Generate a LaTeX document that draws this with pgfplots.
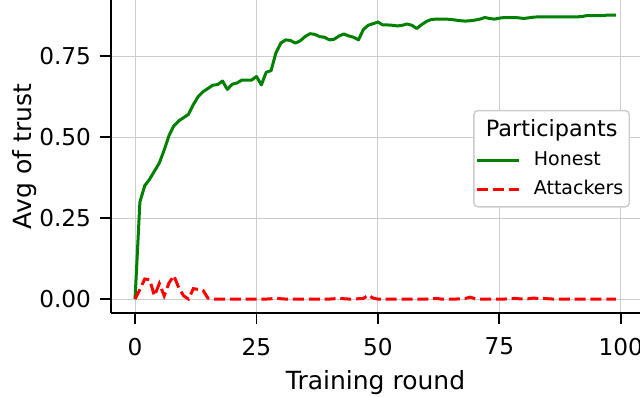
\documentclass[border=0pt]{standalone}
\usepackage{fontspec}
\setmainfont{DejaVu Sans}
\usepackage{pgfplots}
\usepackage{pgfplotstable}
\pgfplotsset{compat=1.18}
\definecolor{mplgreen}{RGB}{0,128,0}
\definecolor{gridgray}{RGB}{205,205,205}
\definecolor{leggray}{RGB}{204,204,204}

\pgfplotstableread{
x h
0 0
1 0.30
2 0.35
3 0.37
4 0.395
5 0.42
6 0.46
7 0.505
8 0.535
9 0.55
10 0.56
11 0.57
12 0.60
13 0.625
14 0.64
15 0.65
16 0.66
17 0.662
18 0.673
19 0.647
20 0.663
21 0.667
22 0.676
23 0.676
24 0.676
25 0.687
26 0.661
27 0.700
28 0.705
29 0.760
30 0.790
31 0.800
32 0.798
33 0.790
34 0.797
35 0.810
36 0.819
37 0.817
38 0.810
39 0.808
40 0.800
41 0.802
42 0.812
43 0.818
44 0.812
45 0.808
46 0.800
47 0.832
48 0.845
49 0.850
50 0.855
51 0.846
52 0.846
53 0.845
54 0.843
55 0.845
56 0.849
57 0.845
58 0.835
59 0.847
60 0.857
61 0.863
62 0.864
63 0.864
64 0.864
65 0.863
66 0.861
67 0.859
68 0.858
69 0.859
70 0.861
71 0.864
72 0.869
73 0.866
74 0.864
75 0.867
76 0.869
77 0.869
78 0.869
79 0.868
80 0.866
81 0.868
82 0.870
83 0.871
84 0.871
85 0.871
86 0.871
87 0.871
88 0.871
89 0.871
90 0.871
91 0.871
92 0.872
93 0.875
94 0.875
95 0.875
96 0.875
97 0.876
98 0.876
99 0.876
}\honest

\pgfplotstableread{
x a
0 0
1 0.030
2 0.062
3 0.060
4 0.010
5 0.048
6 0.010
7 0.050
8 0.072
9 0.035
10 0.010
11 0.000
12 0.032
13 0.030
14 0.027
15 0.003
16 0.000
17 0.000
18 0.000
19 0.000
20 0.000
21 0.000
22 0.000
23 0.000
24 0.000
25 0.000
26 0.000
27 0.000
28 0.001
29 0.003
30 0.001
31 0.000
32 0.000
33 0.000
34 0.000
35 0.000
36 0.000
37 0.000
38 0.000
39 0.000
40 0.000
41 0.001
42 0.003
43 0.001
44 0.000
45 0.000
46 0.001
47 0.002
48 0.012
49 0.003
50 0.000
51 0.000
52 0.000
53 0.000
54 0.000
55 0.000
56 0.000
57 0.000
58 0.000
59 0.000
60 0.000
61 0.001
62 0.002
63 0.000
64 0.000
65 0.000
66 0.000
67 0.001
68 0.002
69 0.006
70 0.001
71 0.000
72 0.000
73 0.000
74 0.000
75 0.000
76 0.000
77 0.001
78 0.002
79 0.001
80 0.000
81 0.001
82 0.003
83 0.002
84 0.002
85 0.001
86 0.000
87 0.000
88 0.000
89 0.000
90 0.000
91 0.000
92 0.000
93 0.000
94 0.000
95 0.000
96 0.000
97 0.000
98 0.000
99 0.000
}\attack

\begin{document}
\begin{tikzpicture}
\begin{axis}[
  at={(0,0)}, anchor=south west,
  scale only axis,
  width=264.5pt, height=156.5pt,
  xmin=-4.95, xmax=103.95,
  ymin=-0.043, ymax=0.923,
  axis x line*=bottom, axis y line*=left,
  axis line style={line width=0.9pt, -},
  xtick={0,25,50,75,100},
  ytick={0,0.25,0.5,0.75},
  yticklabels={0.00,0.25,0.50,0.75},
  tick align=outside,
  major tick length=5.5pt,
  tick style={line width=0.9pt, black},
  grid=major,
  major grid style={line width=0.5pt, gridgray},
  /pgf/number format/assume math mode=true,
  tick label style={font=\fontsize{11.6}{13}\selectfont},
  xticklabel style={yshift=-3.5pt},
  yticklabel style={xshift=-1pt},
  label style={font=\fontsize{12.5}{15}\selectfont},
  xlabel={Training round},
  ylabel={Avg of trust},
  xlabel style={at={(axis description cs:0.5,0)}, anchor=center, yshift=-35pt},
  ylabel style={at={(axis description cs:-0.1626,0.5)}, anchor=center},
  legend style={at={(axis description cs:0.981,0.649)}, anchor=north east,
    draw=leggray, line width=0.7pt, rounded corners=2pt, fill=white,
    font=\fontsize{9.5}{11}\selectfont, row sep=2pt, inner xsep=1pt, inner ysep=2.5pt},
  legend cell align=left,
  legend image code/.code={\draw[#1] (0pt,0pt) -- (21pt,0pt); \path (25.5pt,0pt);},
]
\addlegendimage{empty legend}
\addlegendentry{\hspace*{-24pt}\fontsize{11.2}{13}\selectfont Participants}
\addplot[mplgreen, line width=1.5pt, line join=round] table[x=x, y=h] {\honest};
\addlegendentry{Honest}
\addplot[red, line width=1.5pt, dash pattern=on 5.5pt off 2.4pt] table[x=x, y=a] {\attack};
\addlegendentry{Attackers}
\end{axis}
\pgfresetboundingbox
\path[use as bounding box] (-55.5pt,-41.5pt) rectangle (264.5pt,156.5pt);
\end{tikzpicture}
\end{document}
